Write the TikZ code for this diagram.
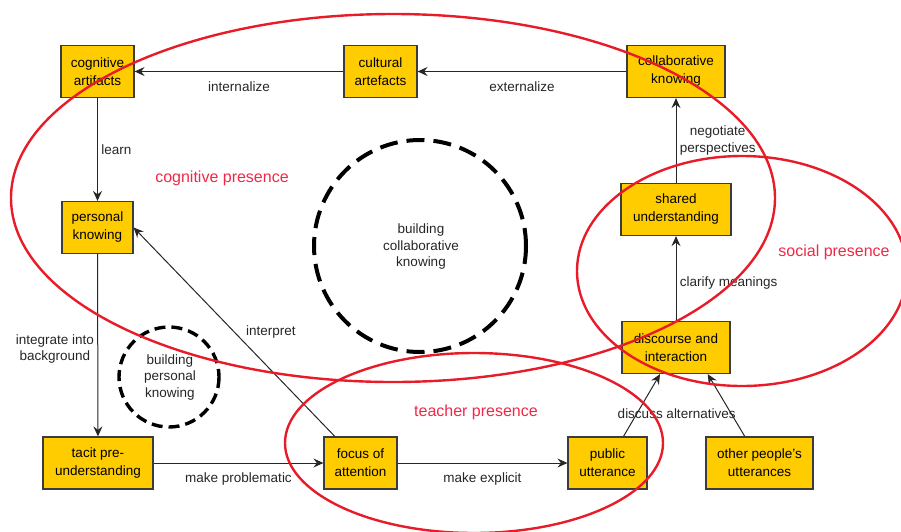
\documentclass[tikz,border=0pt]{standalone}
\usepackage{fontspec}
\setmainfont{Liberation Sans}
\usetikzlibrary{arrows.meta,shapes}

\definecolor{boxfill}{RGB}{255,204,0}
\definecolor{boxline}{RGB}{60,60,60}
\definecolor{presline}{RGB}{232,28,40}
\definecolor{prestext}{RGB}{240,40,70}

\begin{document}
\begin{tikzpicture}[x=1pt,y=-1pt,>={Stealth[length=10pt,width=9pt,inset=3.5pt]},
   concept/.style={draw=boxline, line width=1.2pt, fill=boxfill, align=center,
      minimum height=52pt, inner sep=2pt, font=\fontsize{13.5}{18}\selectfont},
   link/.style={->, draw=black!85, line width=1pt},
   lbl/.style={font=\fontsize{13.5}{16.5}\selectfont, text=black!85, align=center},
   presence/.style={draw=presline, line width=2.4pt},
   prestitle/.style={text=prestext, font=\fontsize{16}{19}\selectfont},
   bigloop/.style={draw=black, line width=4pt, dash pattern=on 18pt off 9pt},
   smallloop/.style={draw=black, line width=3.4pt, dash pattern=on 11pt off 6pt}]
   \useasboundingbox (0,0) rectangle (901,531);

   % dashed circles
   \draw[bigloop] (420,246) circle [radius=106];
   \draw[smallloop] (169,377) circle [radius=50];
   \node[lbl] (bck) at (421,247) {building\\collaborative\\knowing};
   \node[lbl] (bpk) at (170,377) {building\\personal\\knowing};

   % concepts
   \node[concept, minimum width=73pt] (cogart) at (97.5,71.5) {cognitive\\artifacts};
   \node[concept, minimum width=73pt] (cultart) at (380.5,71.5) {cultural\\artefacts};
   \node[concept, minimum width=98pt] (collab) at (676,71.5) {collaborative\\knowing};
   \node[concept, minimum width=71pt] (perskn) at (97.5,227.5) {personal\\knowing};
   \node[concept, minimum width=110pt] (shared) at (676,209.5) {shared\\understanding};
   \node[concept, minimum width=108pt] (disc) at (676,347.5) {discourse and\\interaction};
   \node[concept, minimum width=110pt] (tacit) at (98,463) {tacit pre-\\understanding};
   \node[concept, minimum width=73pt] (focus) at (360.5,463) {focus of\\attention};
   \node[concept, minimum width=79pt] (public) at (607.5,463) {public\\utterance};
   \node[concept, minimum width=107pt] (others) at (759.5,463) {other people's\\utterances};

   \path%
     (collab) edge[link] node[lbl, below=6pt] {externalize} (cultart) %collaborative to cultural
     (cultart) edge[link] node[lbl, below=6pt] {internalize} (cogart) %cultural to cognitive
     (cogart) edge[link] node[lbl, right] {learn} (perskn) %cognitive to personal
     (perskn) edge[link] node[lbl, left, pos=.52] {integrate into\\background} (tacit) %personal to tacit
     (tacit) edge[link] node[lbl, below=6pt] {make problematic} (focus) %tacit to focus
     (focus) edge[link] node[lbl, below=6pt] {make explicit} (public) %focus to public
     (focus.134) edge[link] node[lbl, right=8pt] {interpret} (perskn.east) %focus to personal
     (public.59) edge[link] node[lbl, pos=.36, xshift=40pt] {discuss alternatives} (disc.239) %public to discourse
     (others.119) edge[link] (disc.320) %others to discourse
     (disc) edge[link] node[lbl, right, pos=.45] {clarify meanings} (shared) %discourse to shared
     (shared) edge[link] node[lbl, right, font=\fontsize{13.5}{17}\selectfont] {negotiate\\perspectives} (collab); %shared to collaborative

   % presences
   \draw[presence] (393,198) ellipse [x radius=382, y radius=184];
   \draw[presence] (742,271) ellipse [x radius=165, y radius=115];
   \draw[presence] (474,443) ellipse [x radius=189, y radius=90];
   \node[prestitle] (cogpres) at (222,178) {cognitive presence};
   \node[prestitle] (socpres) at (834,252) {social presence};
   \node[prestitle] (teachpres) at (476,412) {teacher presence};
\end{tikzpicture}
\end{document}
